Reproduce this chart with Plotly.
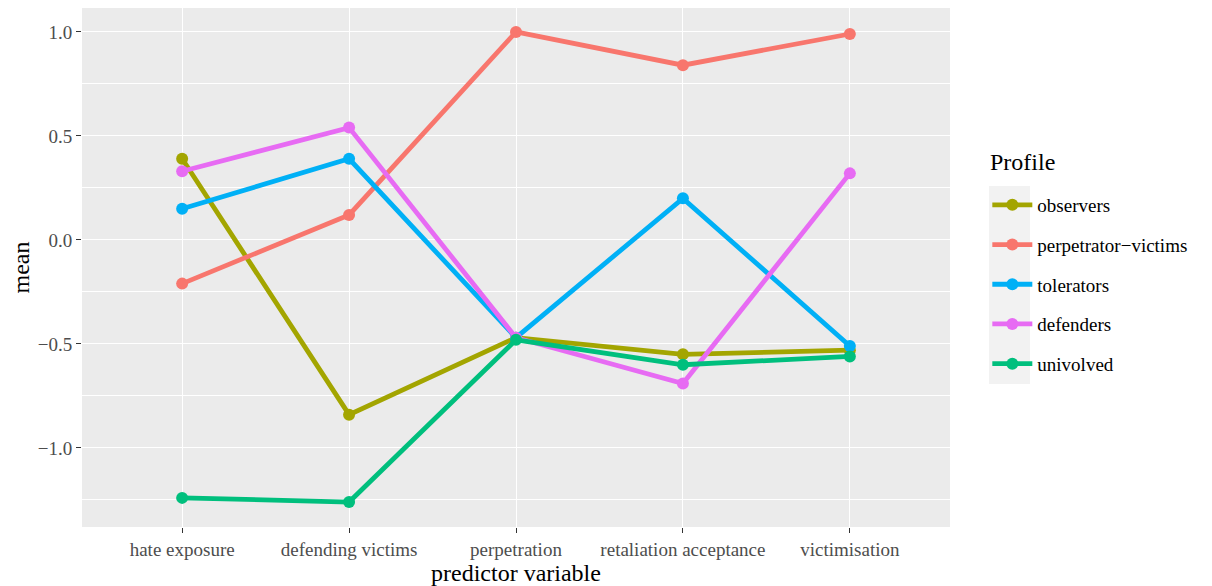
import plotly.graph_objects as go

categories = ["hate exposure", "defending victims", "perpetration", "retaliation acceptance", "victimisation"]
profiles = ["observers", "perpetrator\u2212victims", "tolerators", "defenders", "univolved"]
observers = [0.39, -0.84, -0.47, -0.55, -0.53]
perpetrator_victims = [-0.21, 0.12, 1.00, 0.84, 0.99]
tolerators = [0.15, 0.39, -0.47, 0.20, -0.51]
defenders = [0.33, 0.54, -0.47, -0.69, 0.32]
univolved = [-1.24, -1.26, -0.48, -0.60, -0.56]
series = [observers, perpetrator_victims, tolerators, defenders, univolved]
colors = ["#A3A500", "#F8766D", "#00B0F6", "#E76BF3", "#00BF7D"]

y_ticks = [-1.0, -0.5, 0.0, 0.5, 1.0]
y_ticktext = ["\u22121.0", "\u22120.5", "0.0", "0.5", "1.0"]

FONT = "Liberation Serif"

fig = go.Figure()
for i, (name, vals, col) in enumerate(zip(profiles, series, colors)):
    fig.add_trace(go.Scatter(
        x=categories, y=vals, name=name, mode="lines+markers",
        line=dict(color=col, width=4.8),
        marker=dict(color=col, size=12),
        legendgroup=f"g{i}",
    ))

fig.update_layout(
    width=1204, height=578,
    margin=dict(l=74, r=262, t=0, b=59),
    paper_bgcolor="white",
    plot_bgcolor="#EBEBEB",
    font=dict(family=FONT, color="#4D4D4D"),
    showlegend=True,
    legend=dict(
        font=dict(size=19, color="black", family=FONT),
        x=1.043, xanchor="left", y=0.657, yanchor="top",
        traceorder="grouped", tracegroupgap=12,
        bgcolor="rgba(0,0,0,0)",
        itemwidth=40,
    ),
    xaxis=dict(
        type="category", categoryorder="array", categoryarray=categories,
        range=[-0.6, 4.6],
        showgrid=True, gridcolor="white", gridwidth=1.2,
        zeroline=False, showline=False,
        ticks="outside", ticklen=5, tickcolor="#333333", tickwidth=1.2,
        tickfont=dict(size=19, color="#4D4D4D", family=FONT),
        title=dict(text="predictor variable", font=dict(size=24, color="black", family=FONT), standoff=0),
    ),
    yaxis=dict(
        range=[-1.38, 1.115],
        tickvals=y_ticks, ticktext=y_ticktext,
        showgrid=True, gridcolor="white", gridwidth=1.2,
        minor=dict(tickvals=[-1.25, -0.75, -0.25, 0.25, 0.75], showgrid=True, gridcolor="white", gridwidth=0.6, ticks=""),
        zeroline=False, showline=False,
        ticks="outside", ticklen=5, tickcolor="#333333", tickwidth=1.2,
        tickfont=dict(size=19, color="#4D4D4D", family=FONT),
        title=dict(text="mean", font=dict(size=24, color="black", family=FONT), standoff=9),
    ),
)

fig.add_annotation(text="Profile", xref="paper", yref="paper",
                   x=(988 - 82) / 868, y=(527 - 162) / 519,
                   xanchor="left", yanchor="middle", showarrow=False,
                   font=dict(size=24, color="black", family=FONT))

fig.add_shape(type="rect", xref="paper", yref="paper",
              x0=(989 - 82) / 868, x1=(1030 - 82) / 868,
              y0=(527 - 384) / 519, y1=(527 - 186) / 519,
              fillcolor="#F2F2F2", line=dict(width=0), layer="below")

fig.write_html("out.html")
